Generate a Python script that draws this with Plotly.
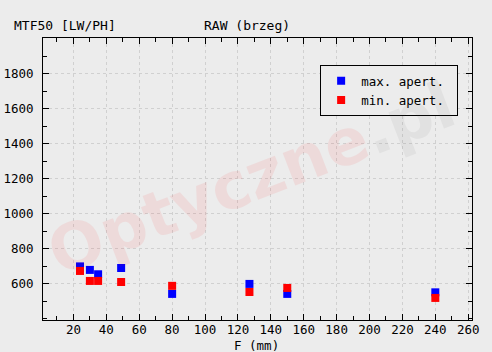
import plotly.graph_objects as go

focal = [24, 30, 35, 49, 80, 127, 150, 240]
max_apert = [700, 680, 655, 691, 543, 600, 543, 552]
min_apert = [674, 617, 617, 611, 589, 554, 577, 520]

BG = "rgb(236,236,236)"
MONO = "DejaVu Sans Mono"

fig = go.Figure()
fig.add_trace(go.Scatter(x=focal, y=max_apert, mode="markers", name="max. apert.\u00a0",
                         marker=dict(symbol="square", size=8, color="#0000ff", line=dict(width=0))))
fig.add_trace(go.Scatter(x=focal, y=min_apert, mode="markers", name="min. apert.\u00a0",
                         marker=dict(symbol="square", size=8, color="#ff0000", line=dict(width=0))))

axis_common = dict(
    showline=True, linecolor="black", linewidth=1, mirror="allticks",
    ticks="inside", tickcolor="black", ticklen=6, tickwidth=1,
    showgrid=True, gridcolor="rgb(208,208,208)", griddash="dot", gridwidth=1,
    zeroline=False, automargin=False,
    tickfont=dict(family=MONO, size=12.5, color="black"),
)

fig.update_xaxes(range=[1.5, 262.3], tickmode="array",
                 tickvals=list(range(20, 261, 20)),
                 ticklabelstandoff=-2,
                 minor=dict(ticks="inside", ticklen=4, tickcolor="black", dtick=10, tick0=0, showgrid=False),
                 **axis_common)
fig.update_yaxes(range=[394, 2004], tickmode="array",
                 tickvals=list(range(600, 2000, 200)),
                 ticklabelstandoff=6,
                 minor=dict(ticks="inside", ticklen=4, tickcolor="black", dtick=100, tick0=0, showgrid=False),
                 **axis_common)

fig.add_annotation(text="<b>Optyczne<span style=\"color:rgb(90,90,90)\">.pl</span></b>",
                   xref="paper", yref="paper", x=0.485, y=0.5, showarrow=False, opacity=0.07,
                   textangle=-21, font=dict(family="DejaVu Sans", size=64, color="rgb(255,0,0)"))

fig.add_annotation(text="F (mm)", xref="paper", yref="paper", x=0.498, y=-0.09,
                   xanchor="center", yanchor="middle", showarrow=False,
                   font=dict(family=MONO, size=12.5, color="black"))
fig.add_annotation(text="MTF50 [LW/PH]", xref="paper", yref="paper", x=-0.0727, y=1.0426,
                   xanchor="left", yanchor="middle", showarrow=False,
                   font=dict(family=MONO, size=13, color="black"))
fig.add_annotation(text="RAW (brzeg)", xref="paper", yref="paper", x=0.370, y=1.0426,
                   xanchor="left", yanchor="middle", showarrow=False,
                   font=dict(family=MONO, size=13, color="black"))

fig.update_layout(
    width=492, height=352,
    margin=dict(l=43, r=20, t=38, b=32),
    paper_bgcolor=BG, plot_bgcolor=BG,
    legend=dict(x=0.646, y=0.904, xanchor="left", yanchor="top",
                bgcolor=BG, bordercolor="black", borderwidth=1,
                font=dict(family=MONO, size=12.5, color="black"),
                tracegroupgap=0, itemwidth=30),
    showlegend=True,
)

fig.write_html("out.html")
